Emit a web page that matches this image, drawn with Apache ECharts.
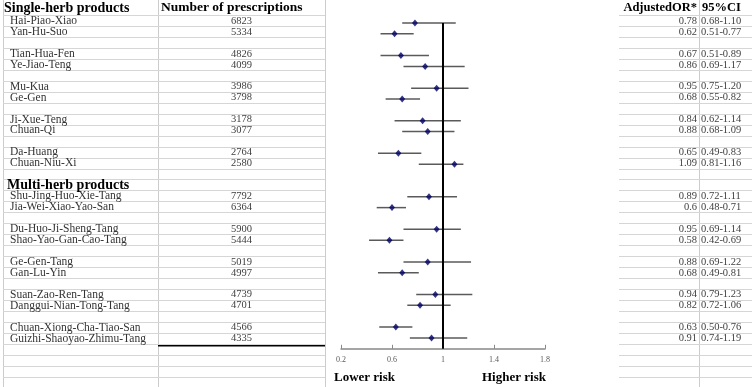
<!DOCTYPE html>
<html>
<head>
<meta charset="utf-8">
<title>Adjusted OR forest plot</title>
<script src="https://cdn.jsdelivr.net/npm/echarts@6/dist/echarts.min.js"></script>
<style>
  html, body { margin: 0; padding: 0; background: #fff; }
  #chart { width: 752px; height: 387px; }
</style>
</head>
<body>
<div id="chart"></div>
<script>
var singleHerb = ['Hai-Piao-Xiao', 'Yan-Hu-Suo', 'Tian-Hua-Fen', 'Ye-Jiao-Teng', 'Mu-Kua',
  'Ge-Gen', 'Ji-Xue-Teng', 'Chuan-Qi', 'Da-Huang', 'Chuan-Niu-Xi'];
var multiHerb = ['Shu-Jing-Huo-Xie-Tang', 'Jia-Wei-Xiao-Yao-San', 'Du-Huo-Ji-Sheng-Tang',
  'Shao-Yao-Gan-Cao-Tang', 'Ge-Gen-Tang', 'Gan-Lu-Yin', 'Suan-Zao-Ren-Tang',
  'Danggui-Nian-Tong-Tang', 'Chuan-Xiong-Cha-Tiao-San', 'Guizhi-Shaoyao-Zhimu-Tang'];
var prescriptions = [6823, 5334, 4826, 4099, 3986, 3798, 3178, 3077, 2764, 2580,
  7792, 6364, 5900, 5444, 5019, 4997, 4739, 4701, 4566, 4335];
var adjustedOR = [0.78, 0.62, 0.67, 0.86, 0.95, 0.68, 0.84, 0.88, 0.65, 1.09,
  0.89, 0.6, 0.95, 0.58, 0.88, 0.68, 0.94, 0.82, 0.63, 0.91];
var ciLow = [0.68, 0.51, 0.51, 0.69, 0.75, 0.55, 0.62, 0.68, 0.49, 0.81,
  0.72, 0.48, 0.69, 0.42, 0.69, 0.49, 0.79, 0.72, 0.50, 0.74];
var ciHigh = [1.10, 0.77, 0.89, 1.17, 1.20, 0.82, 1.14, 1.09, 0.83, 1.16,
  1.11, 0.71, 1.14, 0.69, 1.22, 0.81, 1.23, 1.06, 0.76, 1.19];
var xTicks = [0.2, 0.6, 1, 1.4, 1.8];

var SERIF = '"Liberation Serif", "Times New Roman", serif';
var TABLE_TOP = 15.5;
var ROW_H = 10.95;

// table rows: a blank row after every pair, group title before the multi-herb block
var rows = [];
singleHerb.forEach(function (name, i) {
  rows.push({ name: name, k: i });
  if (i % 2 === 1) rows.push(null);
});
rows.push({ group: 'Multi-herb products' });
multiHerb.forEach(function (name, i) {
  rows.push({ name: name, k: i + singleHerb.length });
  if (i % 2 === 1 && i < multiHerb.length - 1) rows.push(null);
});

var items = [];
var groupRow = 0;
rows.forEach(function (r, idx) {
  if (r && r.name) items.push({ row: idx, k: r.k, name: r.name });
  if (r && r.group) groupRow = idx;
});

var tableCats = [];
for (var i = 0; i < rows.length + 4; i++) tableCats.push('r' + i);
var plotCats = tableCats.slice(0, rows.length + 1);

var cols = [
  { left: 3, width: 155 },
  { left: 158, width: 167 },
  { left: 619, width: 80 },
  { left: 699, width: 53 }
];

var grids = cols.map(function (c) {
  return { left: c.left, width: c.width, top: TABLE_TOP, height: ROW_H * tableCats.length,
    containLabel: false, outerBoundsMode: 'none' };
});
grids.push({ left: 341, width: 204, top: 23, height: 325.8, containLabel: false, outerBoundsMode: 'none' });

var xAxes = cols.map(function (c, gi) {
  return { type: 'value', gridIndex: gi, min: 0, max: 1, show: false };
});
xAxes.push({
  type: 'value', gridIndex: 4, min: 0.2, max: 1.8,
  axisLine: { show: true, onZero: false, lineStyle: { color: '#888', width: 1.5 } },
  axisTick: { show: true, inside: true, length: 4, customValues: xTicks, lineStyle: { color: '#888' } },
  axisLabel: { customValues: xTicks, fontSize: 8, color: '#595959', fontFamily: SERIF, margin: 7 },
  splitLine: { show: false }
});

var yAxes = cols.map(function (c, gi) {
  return {
    type: 'category', gridIndex: gi, inverse: true, data: tableCats,
    axisLine: { show: false }, axisTick: { show: false },
    axisLabel: { show: false, interval: 0 },
    splitLine: { show: true, interval: 0, lineStyle: { color: '#d6d6d6', width: 1 } }
  };
});
yAxes.push({ type: 'category', gridIndex: 4, inverse: true, boundaryGap: false, data: plotCats, show: false });

function textSeries(gi, cells) {
  return {
    type: 'custom', xAxisIndex: gi, yAxisIndex: gi, silent: true,
    encode: { x: 0, y: 1 },
    data: cells.map(function (c) { return [c.x, c.row]; }),
    renderItem: function (params, api) {
      var c = cells[params.dataIndex];
      var p = api.coord([api.value(0), api.value(1)]);
      return {
        type: 'text', x: p[0] + (c.dx || 0), y: p[1],
        style: { text: c.text, fill: c.color || '#333', font: c.font, align: c.align, verticalAlign: 'middle' }
      };
    }
  };
}

var nameFont = '11.5px ' + SERIF;
var numFont = '10.5px ' + SERIF;

var nameCells = items.map(function (it) {
  return { x: 0, row: it.row, dx: 7, text: it.name, font: nameFont, align: 'left' };
});
nameCells.push({ x: 0, row: groupRow, dx: 4, text: rows[groupRow].group, font: 'bold 14px ' + SERIF, align: 'left', color: '#000' });

var countCells = items.map(function (it) {
  return { x: 0.5, row: it.row, text: String(prescriptions[it.k]), font: numFont, align: 'center', color: '#404040' };
});
var orCells = items.map(function (it) {
  return { x: 1, row: it.row, dx: -2, text: String(adjustedOR[it.k]), font: numFont, align: 'right', color: '#404040' };
});
var ciCells = items.map(function (it) {
  return { x: 0, row: it.row, dx: 2, text: ciLow[it.k].toFixed(2) + '-' + ciHigh[it.k].toFixed(2), font: numFont, align: 'left', color: '#404040' };
});

var series = [
  textSeries(0, nameCells),
  textSeries(1, countCells),
  textSeries(2, orCells),
  textSeries(3, ciCells),
  {
    type: 'custom', xAxisIndex: 4, yAxisIndex: 4, silent: true, z: 2,
    encode: { x: [0, 1], y: 2 },
    data: items.map(function (it) { return [ciLow[it.k], ciHigh[it.k], it.row]; }),
    renderItem: function (params, api) {
      var a = api.coord([api.value(0), api.value(2)]);
      var b = api.coord([api.value(1), api.value(2)]);
      return { type: 'line', shape: { x1: a[0], y1: a[1], x2: b[0], y2: b[1] },
        style: { stroke: '#5a5a5a', lineWidth: 1.5 } };
    }
  },
  {
    type: 'scatter', xAxisIndex: 4, yAxisIndex: 4, silent: true, z: 4,
    symbol: 'diamond', symbolSize: [6, 7],
    itemStyle: { color: '#000066' },
    data: items.map(function (it) { return [adjustedOR[it.k], it.row]; }),
    markLine: {
      silent: true, symbol: 'none', label: { show: false }, z: 3,
      lineStyle: { color: '#000', width: 2, type: 'solid' },
      data: [{ xAxis: 1 }]
    }
  }
];

var borderX = [3, 158, 325, 699];
var graphic = borderX.map(function (x) {
  return { type: 'line', silent: true, z: -1, shape: { x1: x + 0.5, y1: 0, x2: x + 0.5, y2: 387 },
    style: { stroke: '#cccccc', lineWidth: 1 } };
});
graphic.push(
  { type: 'line', silent: true, shape: { x1: 158, y1: 345.5, x2: 325, y2: 345.5 }, style: { stroke: '#000', lineWidth: 2 } },
  { type: 'text', x: 4, y: 8, style: { text: 'Single-herb products', font: 'bold 14px ' + SERIF, fill: '#000', verticalAlign: 'middle' } },
  { type: 'text', x: 161, y: 8, style: { text: 'Number of prescriptions', font: 'bold 13.5px ' + SERIF, fill: '#000', verticalAlign: 'middle' } },
  { type: 'text', x: 697, y: 8, style: { text: 'AdjustedOR*', font: 'bold 12.5px ' + SERIF, fill: '#000', align: 'right', verticalAlign: 'middle' } },
  { type: 'text', x: 702, y: 8, style: { text: '95%CI', font: 'bold 12.5px ' + SERIF, fill: '#000', verticalAlign: 'middle' } },
  { type: 'text', x: 334, y: 378, style: { text: 'Lower risk', font: 'bold 13px ' + SERIF, fill: '#000', verticalAlign: 'middle' } },
  { type: 'text', x: 482, y: 378, style: { text: 'Higher risk', font: 'bold 13px ' + SERIF, fill: '#000', verticalAlign: 'middle' } }
);

var myChart = echarts.init(document.getElementById('chart'), null, { renderer: 'canvas' });
myChart.setOption({
  animation: false,
  backgroundColor: '#fff',
  grid: grids,
  xAxis: xAxes,
  yAxis: yAxes,
  series: series,
  graphic: graphic
});
</script>
</body>
</html>
